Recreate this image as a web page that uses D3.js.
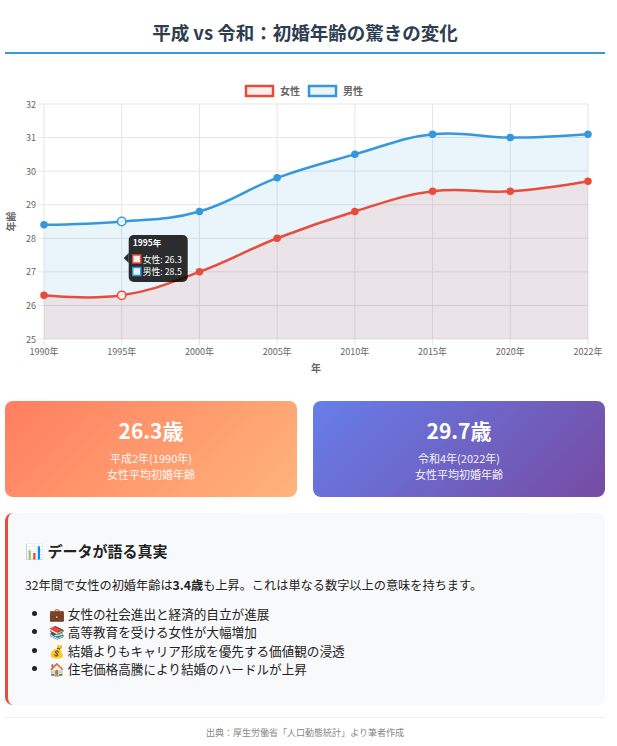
<!DOCTYPE html>
<html lang="ja">
<head>
<meta charset="utf-8">
<script src="https://cdn.jsdelivr.net/npm/d3@7"></script>
<style>
  html, body { margin: 0; padding: 0; background: #fff; }
  body { width: 617px; height: 746px; position: relative; overflow: hidden;
         font-family: "Noto Sans CJK JP", "Noto Sans", sans-serif; color: #333; }
  .abs { position: absolute; }
  #title { left: 5px; width: 600px; top: 19px; text-align: center; font-size: 18.5px; font-weight: 700; color: #2c3e50; line-height: 26px; }
  #rule { left: 5px; width: 600px; top: 52px; height: 2px; background: #3498db; }
  svg { position: absolute; left: 0; top: 0; }
  .card { top: 401px; width: 292px; height: 96px; border-radius: 8px; color: #fff; text-align: center; }
  .card .big { position: absolute; left: 0; right: 0; top: 15px; font-size: 21px; font-weight: 700; line-height: 28px; }
  .card .sub { position: absolute; left: 0; right: 0; top: 49px; font-size: 11px; line-height: 16px; opacity: 0.92; }
  #c1 { left: 5px; background: linear-gradient(135deg, #ff7e5f, #feb47b); }
  #c2 { left: 313px; background: linear-gradient(135deg, #667eea, #764ba2); }
  #box { left: 5px; top: 513px; width: 597px; height: 192px; background: #f8f9fa; border-left: 3px solid #e74c3c; border-radius: 8px; }
  #box h3 { position: absolute; left: 17px; top: 28px; margin: 0; font-size: 15px; font-weight: 700; color: #222; line-height: 20px; }
  #box p { position: absolute; left: 17px; top: 63px; margin: 0; font-size: 12.2px; line-height: 18px; color: #222; }
  #box ul { position: absolute; left: 17px; top: 92px; margin: 0; padding-left: 24px; font-size: 12.6px; line-height: 18.3px; color: #222; }
  #foot-rule { left: 5px; width: 600px; top: 717px; height: 1px; background: #eee; }
  #foot { left: 5px; width: 600px; top: 726px; text-align: center; font-size: 9px; color: #888; line-height: 14px; }
</style>
</head>
<body>
<div id="title" class="abs">平成 vs 令和：初婚年齢の驚きの変化</div>
<div id="rule" class="abs"></div>
<svg id="chart" width="617" height="390"></svg>

<div id="c1" class="abs card"><div class="big" id="c1big"></div><div class="sub" id="c1sub"></div></div>
<div id="c2" class="abs card"><div class="big" id="c2big"></div><div class="sub" id="c2sub"></div></div>

<div id="box" class="abs">
  <h3>📊 データが語る真実</h3>
  <p>32年間で女性の初婚年齢は<b>3.4歳</b>も上昇。これは単なる数字以上の意味を持ちます。</p>
  <ul id="reasons"></ul>
</div>
<div id="foot-rule" class="abs"></div>
<div id="foot" class="abs">出典：厚生労働省「人口動態統計」より筆者作成</div>

<script>
// ---- data ----
const years = ["1990年", "1995年", "2000年", "2005年", "2010年", "2015年", "2020年", "2022年"];
const female = [26.3, 26.3, 27.0, 28.0, 28.8, 29.4, 29.4, 29.7];
const male = [28.4, 28.5, 28.8, 29.8, 30.5, 31.1, 31.0, 31.1];
const seriesNames = ["女性", "男性"];
const yTicks = [25, 26, 27, 28, 29, 30, 31, 32];
const reasons = [
  "💼 女性の社会進出と経済的自立が進展",
  "📚 高等教育を受ける女性が大幅増加",
  "💰 結婚よりもキャリア形成を優先する価値観の浸透",
  "🏠 住宅価格高騰により結婚のハードルが上昇"
];
const cardBig = ["26.3歳", "29.7歳"];
const cardSub = [["平成2年(1990年)", "女性平均初婚年齢"], ["令和4年(2022年)", "女性平均初婚年齢"]];
const hoverIndex = 1;

(function () {
// ---- text blocks ----
d3.select("#c1big").text(cardBig[0]);
d3.select("#c2big").text(cardBig[1]);
d3.select("#c1sub").html(cardSub[0].join("<br>"));
d3.select("#c2sub").html(cardSub[1].join("<br>"));
d3.select("#reasons").selectAll("li").data(reasons).join("li").text(d => d);

// ---- chart ----
const svg = d3.select("#chart");
const pl = 44, pr = 588, pt = 104, pb = 339;
const x = d3.scalePoint().domain(years).range([pl, pr]);
const y = d3.scaleLinear().domain([25, 32]).range([pb, pt]);
const colors = ["#e74c3c", "#3498db"];
const fills = ["rgba(231,76,60,0.1)", "rgba(52,152,219,0.1)"];
const series = [female, male];
const font = "'Noto Sans CJK JP', 'Noto Sans', sans-serif";

// grid
const g = svg.append("g");
g.selectAll(".hg").data(yTicks).join("line")
  .attr("x1", pl - 6).attr("x2", pr)
  .attr("y1", d => y(d)).attr("y2", d => y(d))
  .attr("stroke", "#e6e6e6").attr("stroke-width", 1);
g.selectAll(".vg").data(years).join("line")
  .attr("x1", d => x(d)).attr("x2", d => x(d))
  .attr("y1", pt).attr("y2", pb + 6)
  .attr("stroke", "#e6e6e6").attr("stroke-width", 1);

// axes labels
g.selectAll(".yl").data(yTicks).join("text")
  .attr("x", pl - 8).attr("y", d => y(d) + 3.5)
  .attr("text-anchor", "end").attr("font-size", 9).attr("fill", "#666")
  .attr("font-family", font).text(d => d);
g.selectAll(".xl").data(years).join("text")
  .attr("x", d => x(d)).attr("y", pb + 16)
  .attr("text-anchor", "middle").attr("font-size", 9).attr("fill", "#666")
  .attr("font-family", font).text(d => d);
svg.append("text").attr("transform", `translate(15,${(pt + pb) / 2}) rotate(-90)`)
  .attr("text-anchor", "middle").attr("font-size", 10).attr("font-weight", 700)
  .attr("fill", "#666").attr("font-family", font).text("年齢");
svg.append("text").attr("x", (pl + pr) / 2).attr("y", 372)
  .attr("text-anchor", "middle").attr("font-size", 10).attr("font-weight", 700)
  .attr("fill", "#666").attr("font-family", font).text("年");

const curve = d3.curveCardinal.tension(-0.2);
const area = d3.area().x((d, i) => x(years[i])).y0(pb).y1(d => y(d)).curve(curve);
const line = d3.line().x((d, i) => x(years[i])).y(d => y(d)).curve(curve);

[1, 0].forEach(k => {
  svg.append("path").attr("d", area(series[k])).attr("fill", fills[k]);
});
[1, 0].forEach(k => {
  svg.append("path").attr("d", line(series[k])).attr("fill", "none")
    .attr("stroke", colors[k]).attr("stroke-width", 2.5);
  svg.append("g").selectAll("circle").data(series[k]).join("circle")
    .attr("cx", (d, i) => x(years[i])).attr("cy", d => y(d))
    .attr("r", (d, i) => i === hoverIndex ? 4.2 : 3)
    .attr("fill", (d, i) => i === hoverIndex ? "#fff" : colors[k])
    .attr("fill-opacity", (d, i) => i === hoverIndex ? 0.85 : 1)
    .attr("stroke", colors[k]).attr("stroke-width", 1.5);
});

// legend
const lg = svg.append("g").attr("font-family", font);
const legX = [245, 308];
seriesNames.forEach((n, k) => {
  lg.append("rect").attr("x", legX[k] + 1).attr("y", 86).attr("width", 27).attr("height", 10)
    .attr("fill", "#fff").attr("stroke", colors[k]).attr("stroke-width", 2.5);
  lg.append("rect").attr("x", legX[k] + 1).attr("y", 86).attr("width", 27).attr("height", 10)
    .attr("fill", fills[k]);
  lg.append("text").attr("x", legX[k] + 35).attr("y", 95).attr("font-size", 10)
    .attr("font-weight", 700).attr("fill", "#666").text(n);
});

// tooltip
const tx = x(years[hoverIndex]) + 7, ty = 235;
const tt = svg.append("g").attr("font-family", font);
tt.append("path")
  .attr("d", `M${tx - 5},${ty + 23} L${tx},${ty + 18} L${tx},${ty + 28} Z`)
  .attr("fill", "rgba(0,0,0,0.82)");
tt.append("rect").attr("x", tx).attr("y", ty).attr("width", 59).attr("height", 47)
  .attr("rx", 5).attr("fill", "rgba(0,0,0,0.82)");
tt.append("text").attr("x", tx + 4).attr("y", ty + 11).attr("font-size", 8.5)
  .attr("font-weight", 700).attr("fill", "#fff").text(years[hoverIndex]);
series.forEach((s, k) => {
  const yy = ty + 20 + k * 12.5;
  tt.append("rect").attr("x", tx + 4).attr("y", yy).attr("width", 8).attr("height", 8)
    .attr("fill", "#fff").attr("stroke", colors[k]).attr("stroke-width", 1.5);
  tt.append("rect").attr("x", tx + 4).attr("y", yy).attr("width", 8).attr("height", 8)
    .attr("fill", fills[k]);
  tt.append("text").attr("x", tx + 14).attr("y", yy + 7.5).attr("font-size", 8.8)
    .attr("fill", "#fff").text(`${seriesNames[k]}: ${s[hoverIndex]}`);
});
})();
</script>
</body>
</html>
